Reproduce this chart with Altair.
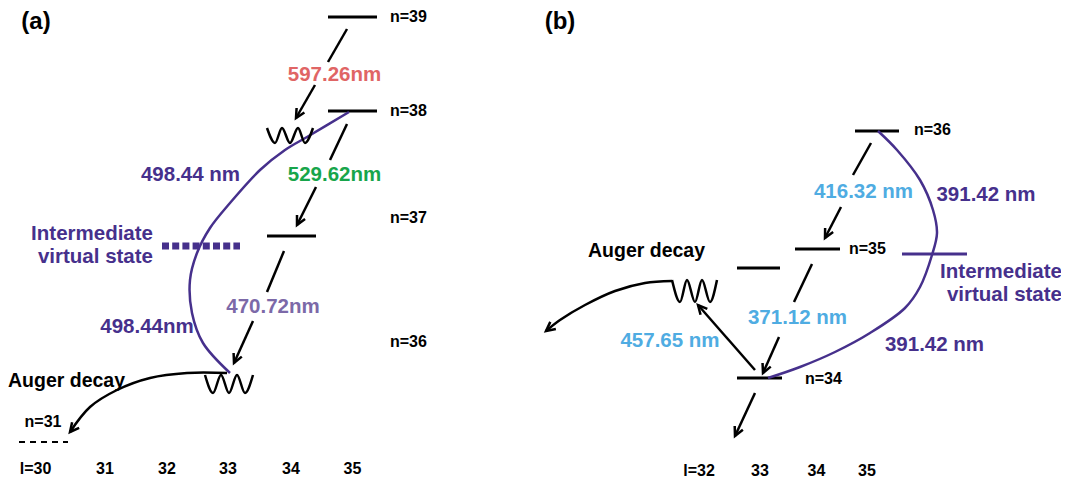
import math
import altair as alt
import pandas as pd

# ---------------- data (diagram anchor positions, picture units) ----------------
# solid energy levels
level_x1 = [328, 328, 267, 855, 795, 737, 737]
level_x2 = [377, 377, 316, 899, 840, 780, 782]
level_y = [17, 111, 236, 131, 249, 268, 378]

# dashed n=31 level
dashed_x1 = [19]
dashed_x2 = [68]
dashed_y = [442]

# intermediate virtual states
virt_a_x1 = [162]
virt_a_x2 = [240]
virt_a_y = [246]
virt_b_x1 = [902]
virt_b_x2 = [967]
virt_b_y = [254]

# straight transition-arrow segments
seg_x1 = [347, 315, 347, 316, 284, 253, 871, 841, 812, 779, 755, 755]
seg_y1 = [29, 85, 124, 187, 251, 321, 143, 207, 264, 337, 370, 393]
seg_x2 = [328, 296, 330, 297, 267, 234, 853, 825, 794, 763, 698, 735]
seg_y2 = [62, 118, 160, 225, 292, 363, 175, 238, 302, 373, 305, 436]

# arrow heads: tip and the point the arrow comes from
head_x = [296, 297, 234, 825, 763, 698, 735, 70, 546]
head_y = [118, 225, 363, 238, 373, 305, 436, 432, 331]
head_from_x = [315, 316, 253, 841, 779, 755, 755, 90, 560]
head_from_y = [85, 187, 321, 207, 337, 370, 393, 407, 320]

# purple two-photon curves
purple_a_x = [349, 307, 285, 260, 230, 210, 197, 190, 192, 203, 230]
purple_a_y = [112, 137, 150, 170, 203, 228, 253, 280, 313, 343, 373]
purple_b_x = [878, 897, 920, 933, 937, 932, 920, 905, 870, 835, 800, 768]
purple_b_y = [131, 150, 180, 210, 233, 255, 287, 308, 333, 352, 367, 378]

# Auger decay curved arrows
auger_a_x = [227, 187, 150, 117, 90, 70]
auger_a_y = [373, 373, 378, 390, 407, 432]
auger_b_x = [672, 645, 615, 585, 560, 546]
auger_b_y = [281, 283, 291, 305, 320, 331]

# wavy (non-radiative) symbols
wave1_x = [267, 275, 282, 290, 298, 305, 313]
wave1_y = [128, 143, 128, 143, 128, 143, 128]
wave2_x = [205, 213, 221, 229, 237, 245, 253]
wave2_y = [375, 393, 375, 393, 375, 393, 375]
wave3_x = [672, 680, 687, 695, 702, 710, 717]
wave3_y = [280, 302, 280, 302, 280, 302, 280]

# texts
title_text = ["(a)", "(b)"]
title_x = [36, 560]
title_y = [22, 22]

level_text = ["n=39", "n=38", "n=37", "n=36", "n=36", "n=35", "n=34"]
level_tx = [390, 390, 390, 390, 914, 849, 805]
level_ty = [17, 111, 218, 342, 130, 249, 379]

n31_text = ["n=31"]
n31_x = [43]
n31_y = [422]

axis_text = ["l=30", "31", "32", "33", "34", "35", "l=32", "33", "34", "35"]
axis_x = [35.5, 105, 167, 228, 291, 352.5, 699, 760, 816.5, 867]
axis_y = [469, 469, 469, 469, 469, 469, 471, 471, 471, 471]

wl_text = ["597.26nm", "529.62nm", "470.72nm", "498.44 nm", "498.44nm",
           "416.32 nm", "371.12 nm", "457.65 nm", "391.42 nm", "391.42 nm"]
wl_group = ["red", "green", "lavender", "purple", "purple",
            "blue", "blue", "blue", "purple", "purple"]
wl_x = [334.5, 334.5, 273, 190.5, 147, 863.5, 797.5, 670, 986, 934.5]
wl_y = [75, 175, 307, 175, 327, 192, 318, 341, 195, 345]

virt_text = ["Intermediate", "virtual state", "Intermediate", "virtual state"]
virt_tx = [153, 153, 1062, 1062]
virt_ty = [234, 257, 272, 295]

auger_text = ["Auger decay", "Auger decay"]
auger_tx = [8, 588]
auger_ty = [381, 251]

# ---------------- styling ----------------
PURPLE = "#46308C"
COLORS = {"red": "#E06565", "green": "#17A54B", "lavender": "#7C69A8",
          "purple": PURPLE, "blue": "#4FACE2"}
FONT = "Liberation Sans"

xs = alt.Scale(domain=[8, 1061], nice=False, zero=False)
ys = alt.Scale(domain=[8, 478], nice=False, zero=False, reverse=True)


def X(f):
    return alt.X(f, type="quantitative", scale=xs, axis=None)


def Y(f):
    return alt.Y(f, type="quantitative", scale=ys, axis=None)


def rules(x1, x2, y1, y2, **mark):
    df = pd.DataFrame({"x": x1, "x2": x2, "y": y1, "y2": y2})
    return alt.Chart(df).mark_rule(**mark).encode(
        x=X("x"), x2="x2", y=Y("y"), y2="y2")


def curves(list_xy, **mark):
    rows = []
    for cid, (xx, yy) in enumerate(list_xy):
        for i, (a, b) in enumerate(zip(xx, yy)):
            rows.append({"id": cid, "i": i, "x": a, "y": b})
    df = pd.DataFrame(rows)
    return alt.Chart(df).mark_line(**mark).encode(
        x=X("x"), y=Y("y"), detail="id:N", order="i:Q")


def texts(labels, xx, yy, colors, size, align):
    df = pd.DataFrame({"t": labels, "x": xx, "y": yy, "c": colors})
    return alt.Chart(df).mark_text(
        font=FONT, fontWeight="bold", fontSize=size, align=align,
        baseline="middle").encode(
        x=X("x"), y=Y("y"), text="t:N", color=alt.Color("c:N", scale=None))


layers = []
layers.append(rules(level_x1, level_x2, level_y, level_y,
                    color="black", strokeWidth=3, strokeCap="butt"))
layers.append(rules(dashed_x1, dashed_x2, dashed_y, dashed_y,
                    color="black", strokeWidth=2, strokeDash=[6, 5]))
layers.append(rules(virt_a_x1, virt_a_x2, virt_a_y, virt_a_y,
                    color=PURPLE, strokeWidth=7, strokeDash=[7, 3.2]))
layers.append(rules(virt_b_x1, virt_b_x2, virt_b_y, virt_b_y,
                    color=PURPLE, strokeWidth=3))
layers.append(rules(seg_x1, seg_x2, seg_y1, seg_y2,
                    color="black", strokeWidth=2.5, strokeCap="butt"))
layers.append(curves([(purple_a_x, purple_a_y), (purple_b_x, purple_b_y)],
                     color=PURPLE, strokeWidth=2.5, interpolate="catmull-rom"))
layers.append(curves([(auger_a_x, auger_a_y), (auger_b_x, auger_b_y)],
                     color="black", strokeWidth=2.5, interpolate="catmull-rom"))
layers.append(curves([(wave1_x, wave1_y), (wave2_x, wave2_y), (wave3_x, wave3_y)],
                     color="black", strokeWidth=2.5, interpolate="monotone"))

# arrow heads
angles = []
for tx, ty, fx, fy in zip(head_x, head_y, head_from_x, head_from_y):
    dx, dy = tx - fx, ty - fy
    angles.append(math.degrees(math.atan2(-dx, dy)) % 360)
heads = pd.DataFrame({"x": head_x, "y": head_y, "a": angles})
layers.append(alt.Chart(heads).mark_point(
    shape="M-0.5,-1L0,0L0.5,-1", filled=False, size=324, strokeWidth=2.5,
    color="black", opacity=1, strokeJoin="miter").encode(
    x=X("x"), y=Y("y"), angle=alt.Angle("a:Q", scale=None)))

layers.append(texts(title_text, title_x, title_y, ["black"] * 2, 24, "center"))
layers.append(texts(level_text, level_tx, level_ty, ["black"] * 7, 16, "left"))
layers.append(texts(n31_text, n31_x, n31_y, ["black"], 16, "center"))
layers.append(texts(axis_text, axis_x, axis_y, ["black"] * 10, 16, "center"))
layers.append(texts(wl_text, wl_x, wl_y, [COLORS[g] for g in wl_group], 20.5, "center"))
layers.append(texts(virt_text, virt_tx, virt_ty, [PURPLE] * 4, 20.5, "right"))
layers.append(texts(auger_text, auger_tx, auger_ty, ["black"] * 2, 19.5, "left"))

chart = alt.layer(*layers).properties(
    width=1053, height=470, padding=0, autosize="none",
    background="white"
).configure_view(stroke=None)

chart.save("out.html", embed_options={"renderer": "svg", "actions": False})
